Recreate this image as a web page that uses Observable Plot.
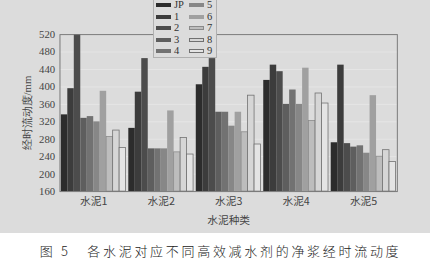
<!DOCTYPE html>
<html><head><meta charset="utf-8">
<script src="https://cdn.jsdelivr.net/npm/d3@7"></script>
<script src="https://cdn.jsdelivr.net/npm/@observablehq/plot@0.6"></script>
<style>
html,body{margin:0;padding:0;background:#fff;}
#wrap{position:relative;width:430px;height:233px;background:#dcdcdc;overflow:hidden;}
#legend{position:absolute;left:153px;top:-6px;width:62px;height:62px;border:1px solid #b0b0b0;background:#dcdcdc;font-family:"Liberation Serif",serif;font-size:10.5px;color:#333;}
.item{position:absolute;height:11px;line-height:11px;width:30px;}
.sw{position:absolute;top:4px;width:15px;height:4px;box-sizing:border-box;}
.lb{position:absolute;left:18px;top:0;height:11px;line-height:11px;white-space:nowrap;}
#cap{width:441px;height:35px;font-family:"Noto Sans CJK SC",sans-serif;font-size:13px;font-weight:300;color:#222;letter-spacing:2.7px;text-align:center;line-height:36px;}
</style></head>
<body>
<div id="wrap"><div id="chart"></div><div id="legend"></div></div>
<div id="cap">图 5&nbsp;&nbsp;&nbsp;各水泥对应不同高效减水剂的净浆经时流动度</div>
<script>
const cements = ["水泥1","水泥2","水泥3","水泥4","水泥5"];
const agents = ["JP","1","2","3","4","5","6","7","8","9"];
const vJP = [336,305,405,415,272];
const v1  = [396,388,445,450,450];
const v2  = [520,465,465,435,270];
const v3  = [328,258,342,360,262];
const v4  = [332,258,342,393,265];
const v5  = [320,258,310,360,248];
const v6  = [390,345,342,443,380];
const v7  = [285,250,296,322,240];
const v8  = [300,283,380,385,255];
const v9  = [260,245,268,362,228];
const yTicks = [160,200,240,280,320,360,400,440,480,520];
const fills   = ["#2c2c2c","#3c3c3c","#4c4c4c","#5e5e5e","#727272","#878787","#a0a0a0","#bdbdbd","#d6d6d6","#e4e4e4"];
const strokes = ["none","none","none","none","none","none","none","#8a8a8a","#707070","#707070"];

const series = [vJP,v1,v2,v3,v4,v5,v6,v7,v8,v9];
const data = [];
cements.forEach((c, gi) => agents.forEach((a, si) => data.push({gi, si, cement: c, agent: a, value: series[si][gi]})));
const bw = 0.096, gpad = 0.02;

const plot = Plot.plot({
  width: 441, height: 232,
  marginLeft: 61, marginRight: 34, marginTop: 35, marginBottom: 36,
  style: {background: "transparent", fontFamily: "Liberation Serif, serif", fontSize: "11px", color: "#444"},
  x: {domain: [0, cements.length]},
  y: {domain: [yTicks[0], yTicks[yTicks.length - 1]]},
  marks: [
    Plot.gridY(yTicks, {stroke: "#ececec", strokeOpacity: 0.8, strokeWidth: 0.7}),
    Plot.rect(data, {
      x1: d => d.gi + gpad + d.si * bw,
      x2: d => d.gi + gpad + (d.si + 1) * bw,
      y1: yTicks[0], y2: "value",
      fill: d => fills[d.si],
      stroke: d => strokes[d.si],
      strokeWidth: 0.8
    }),
    Plot.frame({stroke: "#777", strokeWidth: 1}),
    Plot.axisY(yTicks, {tickSize: 0, tickPadding: 5, label: "经时流动度/mm", labelAnchor: "center", labelOffset: 38, labelArrow: "none", fontFamily: "Liberation Serif, serif", fontSize: 11}),
    Plot.axisX(cements.map((c, i) => i + 0.5), {tickSize: 0, tickPadding: 6, tickFormat: v => cements[Math.floor(v)], label: "水泥种类", labelAnchor: "center", labelOffset: 33, labelArrow: "none", fontFamily: "Noto Sans CJK SC, sans-serif", fontSize: 11})
  ]
});
document.getElementById("chart").appendChild(plot);

// legend built from the same arrays
const leg = document.getElementById("legend");
agents.forEach((a, i) => {
  const col = Math.floor(i / 5), row = i % 5;
  const it = document.createElement("div");
  it.className = "item";
  it.style.left = (2 + col * 33) + "px";
  it.style.top = (4 + row * 11.5) + "px";
  const sw = document.createElement("div");
  sw.className = "sw";
  sw.style.background = fills[i];
  if (strokes[i] !== "none") sw.style.border = "1px solid " + strokes[i];
  const lb = document.createElement("div");
  lb.className = "lb"; lb.textContent = a;
  it.appendChild(sw); it.appendChild(lb);
  leg.appendChild(it);
});
</script>
</body></html>
